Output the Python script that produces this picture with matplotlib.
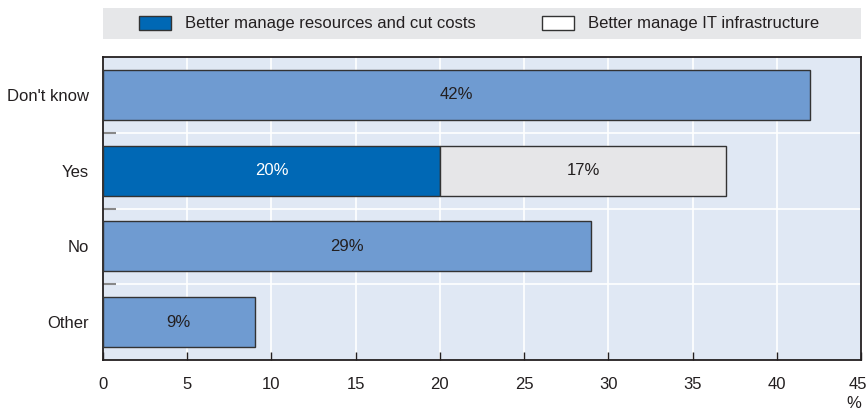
import matplotlib.pyplot as plt
from matplotlib.patches import Rectangle, Patch
from matplotlib.transforms import ScaledTranslation

# data
categories = ["Don't know", "Yes", "No", "Other"]
single_values = [42, None, 29, 9]
yes_resources = 20
yes_infra = 17
legend_labels = ["Better manage resources and cut costs", "Better manage IT infrastructure"]
x_ticks = [0, 5, 10, 15, 20, 25, 30, 35, 40, 45]

plt.rcParams["font.family"] = ["Liberation Sans", "DejaVu Sans"]
plt.rcParams["font.size"] = 12
txt = "#231f20"

c_light = "#6f9bd1"
c_dark = "#0068b5"
c_gray = "#e6e6e8"
edge = "#333333"

fig = plt.figure(figsize=(8.68, 4.12), dpi=100)
ax = fig.add_axes([103 / 868, 1 - 360 / 412, 758 / 868, 303 / 412])
ax.set_facecolor("#e0e8f4")

ys = list(range(len(categories)))
h = 0.66
for y, v in zip(ys, single_values):
    if v is None:
        continue
    ax.barh(y, v, height=h, color=c_light, edgecolor=edge, linewidth=1, zorder=3)
    ax.text(v / 2, y, f"{v}%", ha="center", va="center", color=txt, zorder=4)

yi = categories.index("Yes")
ax.barh(yi, yes_resources, height=h, color=c_dark, edgecolor=edge, linewidth=1, zorder=3)
ax.barh(yi, yes_infra, left=yes_resources, height=h, color=c_gray, edgecolor=edge, linewidth=1, zorder=3)
ax.text(yes_resources / 2, yi, f"{yes_resources}%", ha="center", va="center", color="white", zorder=4)
ax.text(yes_resources + yes_infra / 2, yi, f"{yes_infra}%", ha="center", va="center", color=txt, zorder=4)

ax.set_xlim(0, 45)
ax.set_ylim(len(categories) - 0.5, -0.5)
ax.set_xticks(x_ticks)
ax.set_yticks(ys)
ax.set_yticklabels(categories)
ax.set_yticks([0.5, 1.5, 2.5], minor=True)
ax.tick_params(axis="y", which="major", length=0, pad=10, labelcolor=txt)
ax.tick_params(axis="y", which="minor", direction="in", length=9, width=1.5, color="#888888")
ax.tick_params(axis="x", direction="in", length=6, width=1, color=txt, pad=12, labelcolor=txt)
ax.grid(axis="x", which="major", color="white", linewidth=1.2, zorder=1)
ax.grid(axis="y", which="minor", color="white", linewidth=1.2, zorder=1)
ax.set_axisbelow(True)
for s in ax.spines.values():
    s.set_color(txt)
    s.set_linewidth(1.3)

# keep the last tick label inside the canvas
last = ax.get_xticklabels()[-1]
last.set_transform(last.get_transform() + ScaledTranslation(-3 / 100, 0, fig.dpi_scale_trans))

fig.text(861 / 868, 1 - 403 / 412, "%", ha="right", va="center", color=txt)

# legend band
fig.patches.append(Rectangle((103 / 868, 1 - 39 / 412), 758 / 868, 31 / 412,
                             transform=fig.transFigure, facecolor="#e6e7e9", edgecolor="none"))
handles = [Patch(facecolor=c_dark, edgecolor=edge, linewidth=1),
           Patch(facecolor="white", edgecolor=edge, linewidth=1)]
fig.legend(handles, legend_labels, loc="center", bbox_to_anchor=(479 / 868, 1 - 23.5 / 412),
           ncol=2, frameon=False, handlelength=1.9, handleheight=0.9,
           handletextpad=0.85, columnspacing=4.0, labelcolor=txt)

fig.savefig("out.png", dpi=100)
